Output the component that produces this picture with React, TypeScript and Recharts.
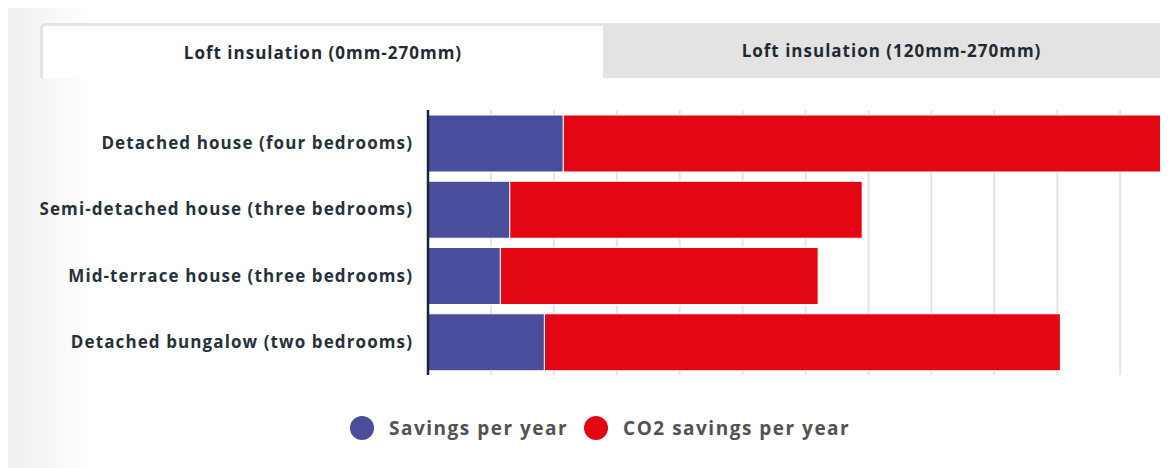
import { Bar, BarChart, CartesianGrid, XAxis, YAxis } from "recharts";

const categories = [
  "Detached house (four bedrooms)",
  "Semi-detached house (three bedrooms)",
  "Mid-terrace house (three bedrooms)",
  "Detached bungalow (two bedrooms)",
];
const savingsPerYear = [215, 130, 115, 185];
const co2SavingsPerYear = [950, 560, 505, 820];
const gridTicks = [0, 100, 200, 300, 400, 500, 600, 700, 800, 900, 1000, 1100];
const tabs = ["Loft insulation (0mm-270mm)", "Loft insulation (120mm-270mm)"];

const BLUE = "#4a4d9b";
const RED = "#e30613";
const FONT = "'Open Sans', sans-serif";

const data = categories.map((name, i) => ({
  name,
  savings: savingsPerYear[i],
  co2: co2SavingsPerYear[i],
}));

const series = [
  { key: "savings", label: "Savings per year", color: BLUE },
  { key: "co2", label: "CO2 savings per year", color: RED },
];

const tabText = {
  fontSize: 17,
  fontWeight: 700,
  letterSpacing: 1,
  color: "#1f2a33",
};

function ChartLegend() {
  return (
    <div
      style={{
        position: "absolute",
        top: 406,
        left: 342,
        display: "flex",
        alignItems: "center",
        height: 28,
      }}
    >
      {series.map((s) => (
        <div key={s.key} style={{ display: "flex", alignItems: "center", marginRight: 16 }}>
          <span
            style={{
              display: "inline-block",
              width: 24,
              height: 24,
              borderRadius: "50%",
              background: s.color,
              marginRight: 15,
            }}
          />
          <span style={{ fontSize: 19, fontWeight: 700, letterSpacing: 1.5, color: "#525252" }}>
            {s.label}
          </span>
        </div>
      ))}
    </div>
  );
}

export default function App() {
  return (
    <div
      style={{
        position: "relative",
        width: 1160,
        height: 460,
        background: "linear-gradient(to right, #efefef 0px, #ffffff 85px)",
        fontFamily: FONT,
      }}
    >
      <div
        style={{
          ...tabText,
          position: "absolute",
          left: 32,
          top: 15,
          width: 563,
          height: 55,
          boxSizing: "border-box",
          borderTop: "3px solid #e3e3e3",
          borderLeft: "3px solid #e3e3e3",
          borderTopLeftRadius: 5,
          background: "#ffffff",
          display: "flex",
          alignItems: "center",
          justifyContent: "center",
        }}
      >
        {tabs[0]}
      </div>
      <div
        style={{
          ...tabText,
          position: "absolute",
          left: 595,
          top: 15,
          width: 565,
          height: 55,
          boxSizing: "border-box",
          paddingLeft: 12,
          background: "#e3e3e3",
          display: "flex",
          alignItems: "center",
          justifyContent: "center",
        }}
      >
        {tabs[1]}
      </div>
      <div style={{ position: "absolute", left: 0, top: 0 }}>
        <BarChart
          width={1160}
          height={374}
          data={data}
          layout="vertical"
          margin={{ top: 102, right: 0, bottom: 6, left: 0 }}
          barSize={57}
        >
          <CartesianGrid horizontal={false} stroke="#e4e4e4" strokeWidth={2} />
          <XAxis
            type="number"
            domain={[0, 1176]}
            ticks={gridTicks}
            tickFormatter={() => ""}
            axisLine={false}
            tickLine={false}
            height={1}
          />
          <YAxis
            type="category"
            dataKey="name"
            width={420}
            axisLine={{ stroke: "#1c2633", strokeWidth: 2.5 }}
            tickLine={false}
            tickSize={0}
            tickMargin={15}
            tick={{ fill: "#26313b", fontSize: 17, fontWeight: 700, letterSpacing: 1.1, fontFamily: FONT }}
          />
          {series.map((s) => (
            <Bar
              key={s.key}
              dataKey={s.key}
              name={s.label}
              stackId="total"
              fill={s.color}
              stroke="#ffffff"
              strokeWidth={1}
              isAnimationActive={false}
            />
          ))}
        </BarChart>
      </div>
      <ChartLegend />
    </div>
  );
}
